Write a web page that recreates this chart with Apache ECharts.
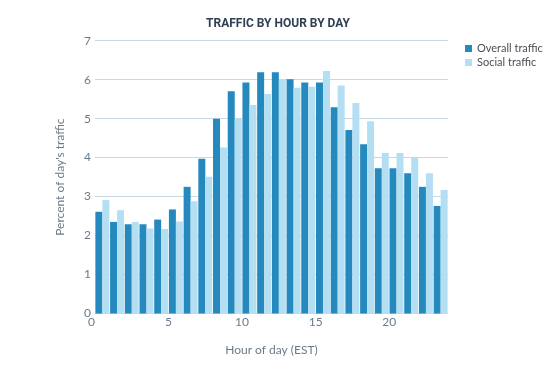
<!DOCTYPE html>
<html>
<head>
<meta charset="utf-8">
<script src="https://cdn.jsdelivr.net/npm/echarts@6/dist/echarts.min.js"></script>
<style>html,body{margin:0;padding:0;background:#fff;}#c{width:553px;height:372px;}</style>
</head>
<body>
<div id="c"></div>
<script>
const hours = [0,1,2,3,4,5,6,7,8,9,10,11,12,13,14,15,16,17,18,19,20,21,22,23];
const overallTraffic = [2.61,2.35,2.29,2.29,2.41,2.67,3.25,3.97,5.0,5.70,5.93,6.19,6.19,6.01,5.93,5.93,5.29,4.71,4.34,3.73,3.73,3.60,3.25,2.76];
const socialTraffic  = [2.91,2.65,2.35,2.18,2.17,2.36,2.88,3.51,4.26,5.0,5.35,5.63,6.0,5.79,5.82,6.22,5.85,5.40,4.93,4.12,4.12,4.0,3.60,3.17];
const seriesNames = ['Overall traffic','Social traffic'];
const xTickInterval = 5;

const labelColor = '#6b7a8a';
const chart = echarts.init(document.getElementById('c'), null, {renderer:'canvas'});
chart.setOption({
  animation: false,
  backgroundColor: '#ffffff',
  textStyle: { fontFamily: 'Lato, "Open Sans", sans-serif' },
  title: {
    text: 'TRAFFIC BY HOUR BY DAY',
    left: 273, top: 13, textAlign: 'center',
    textStyle: { fontSize: 12, fontWeight: 'bold', color: '#2e4052', fontFamily: 'Roboto, sans-serif' }
  },
  legend: {
    orient: 'vertical', left: 460, top: 38,
    itemWidth: 7, itemHeight: 7, itemGap: 3, icon: 'rect',
    textStyle: { fontSize: 11, color: '#4a4f55' },
    data: seriesNames
  },
  grid: { left: 95, right: 105, top: 40.7, bottom: 58.5, containLabel: false },
  xAxis: [
    {
      type: 'category', data: hours, boundaryGap: true,
      axisLine: { show: false }, axisTick: { show: false }, axisLabel: { show: false },
      splitLine: { show: false }
    },
    {
      type: 'value', min: 0, max: hours.length, interval: xTickInterval, position: 'bottom',
      axisLine: { show: false }, axisTick: { show: false }, splitLine: { show: false },
      axisLabel: { color: labelColor, fontSize: 12, margin: 3, showMaxLabel: false, alignMinLabel: 'right' },
      name: 'Hour of day (EST)', nameLocation: 'middle', nameGap: 31,
      nameTextStyle: { color: labelColor, fontSize: 12 }
    }
  ],
  yAxis: {
    type: 'value', min: 0, max: 7, interval: 1,
    axisLine: { show: false }, axisTick: { show: false },
    axisLabel: { color: labelColor, fontSize: 12, margin: 4 },
    splitLine: { lineStyle: { color: '#c8d8e4', width: 1 } },
    name: "Percent of day's traffic", nameLocation: 'middle', nameGap: 29,
    nameTextStyle: { color: labelColor, fontSize: 12 }
  },
  series: [
    { name: seriesNames[0], type: 'bar', xAxisIndex: 0, data: overallTraffic,
      barGap: '0%', barCategoryGap: '5%', itemStyle: { color: '#2589bd' } },
    { name: seriesNames[1], type: 'bar', xAxisIndex: 0, data: socialTraffic,
      barGap: '0%', barCategoryGap: '5%', itemStyle: { color: '#b4dff3' } }
  ]
});
</script>
</body>
</html>
